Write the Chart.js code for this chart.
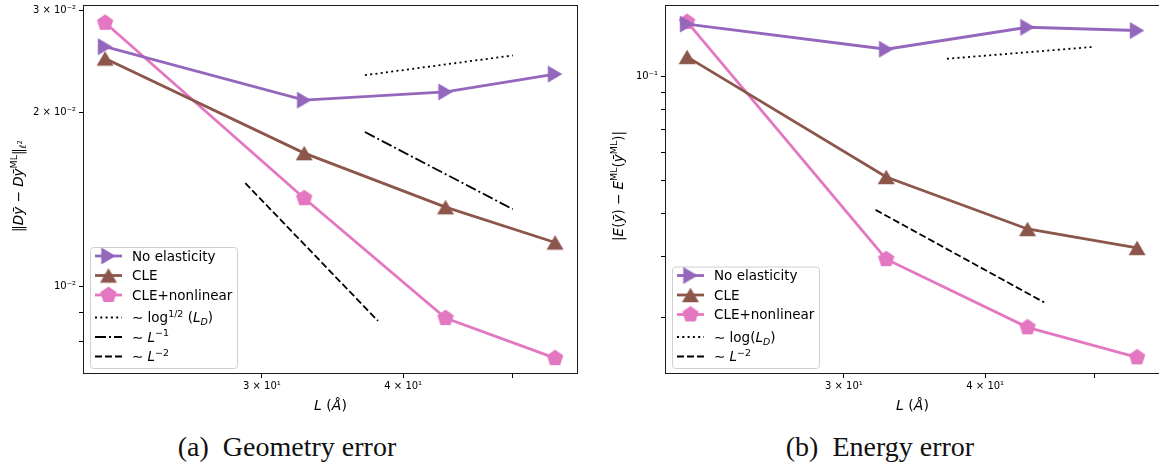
<!DOCTYPE html>
<html>
<head>
<meta charset="utf-8">
<script src="https://cdn.jsdelivr.net/npm/chart.js"></script>
<style>
  body { margin: 0; width: 1159px; height: 466px; overflow: hidden; background: #fff; position: relative; }
  .panel { position: absolute; top: 0; width: 590px; height: 420px; }
  .caption { position: absolute; top: 433px; font-family: 'Liberation Serif', serif; font-size: 28px;
             line-height: 28px; white-space: nowrap; transform: translateX(-50%); color: #111; }
</style>
</head>
<body>
<div class="panel" style="left:0"><canvas id="geoChart" width="590" height="420"></canvas></div>
<div class="panel" style="left:582px"><canvas id="energyChart" width="590" height="420"></canvas></div>
<div class="caption" style="left:287px">(a)&nbsp; Geometry error</div>
<div class="caption" style="left:880px">(b)&nbsp; Energy error</div>
<script>
// system size L (Å)
const L = [21.8, 32.7, 43.6, 54.5];

// geometry error ||Dy - Dy^ML||
const geoNoElastic = [2.60e-2, 2.10e-2, 2.17e-2, 2.33e-2];
const geoCLE = [2.48e-2, 1.70e-2, 1.37e-2, 1.19e-2];
const geoCLENonlin = [2.86e-2, 1.42e-2, 8.80e-3, 7.50e-3];

// energy error |E(y) - E^ML(y^ML)|
const enNoElastic = [0.142, 0.120, 0.139, 0.136];
const enCLE = [0.114, 0.0511, 0.0361, 0.0318];
const enCLENonlin = [0.144, 0.0295, 0.0187, 0.0153];

// rate guides
const geoLogL = [37.0, 50.0], geoLogErr = [2.32e-2, 2.51e-2];
const geoInvL = [37.0, 50.0], geoInvErr = [1.849e-2, 1.359e-2];
const geoInv2L = [29.0, 38.0], geoInv2Err = [1.508e-2, 8.70e-3];
const enLogL = [37.0, 50.0], enLogErr = [0.1126, 0.1220];
const enInv2L = [32.0, 45.1], enInv2Err = [0.0410, 0.0221];

// ticks
const xTicks = [30, 40, 50];
const xTickLabels = ['3 × 10¹', '4 × 10¹', ''];
const geoTicks = [8e-3, 9e-3, 1e-2, 2e-2, 3e-2];
const geoTickLabels = ['', '', '10⁻²', '2 × 10⁻²', '3 × 10⁻²'];
const enTicks = [2e-2, 3e-2, 4e-2, 5e-2, 6e-2, 7e-2, 8e-2, 9e-2, 1e-1];
const enTickLabels = ['', '', '', '', '', '', '', '', '10⁻¹'];

const PURPLE = '#9467bd', BROWN = '#8c564b', PINK = '#e377c2';

Chart.defaults.font.family = 'DejaVu Sans';

function markerCanvas(color, kind) {
  const c = document.createElement('canvas');
  c.width = 20; c.height = 20;
  const g = c.getContext('2d');
  g.fillStyle = color;
  g.beginPath();
  if (kind === 'right') {
    g.moveTo(17.25, 10); g.lineTo(2.75, 1.5); g.lineTo(2.75, 18.5);
  } else if (kind === 'up') {
    g.moveTo(10, 2.75); g.lineTo(1.5, 17.25); g.lineTo(18.5, 17.25);
  } else {
    for (let k = 0; k < 5; k++) {
      const a = -Math.PI / 2 + k * 2 * Math.PI / 5;
      g.lineTo(10 + 8.6 * Math.cos(a), 10 + 8.6 * Math.sin(a));
    }
  }
  g.closePath();
  g.fill();
  return c;
}

function pts(xs, ys) { return xs.map((x, i) => ({ x, y: ys[i] })); }

function series(label, xs, ys, color, kind) {
  return { label, rich: [[label]], data: pts(xs, ys), borderColor: color, backgroundColor: color,
           borderWidth: 2.8, pointStyle: markerCanvas(color, kind), pointRadius: 9 };
}

function guide(label, rich, xs, ys, dash) {
  return { label, rich, data: pts(xs, ys), borderColor: '#000', borderWidth: 1.8,
           borderDash: dash, pointRadius: 0 };
}

// run styles: [size factor, baseline shift, italic]
const RUN = { n: [1, 0, false], i: [1, 0, true], s: [0.7, -0.42, false], b: [0.7, 0.22, false],
              bi: [0.7, 0.22, true], bs: [0.5, -0.08, false] };

function drawRich(ctx, runs, x, y, size, align) {
  let w = 0;
  const parts = runs.map(([t, k]) => {
    const [s, dy, it] = RUN[k || 'n'];
    const font = (it ? 'italic ' : '') + (size * s) + 'px "DejaVu Sans"';
    ctx.font = font;
    const pw = ctx.measureText(t).width;
    w += pw;
    return { t, font, dy: dy * size, pw };
  });
  let cx = align === 'center' ? x - w / 2 : x;
  ctx.textAlign = 'left';
  ctx.textBaseline = 'alphabetic';
  for (const p of parts) {
    ctx.font = p.font;
    ctx.fillText(p.t, cx, y + p.dy);
    cx += p.pw;
  }
}

// spines, axis titles and the boxed legend
const mplFrame = {
  id: 'mplFrame',
  afterDraw(chart, args, o) {
    const { ctx, chartArea: a } = chart;
    ctx.save();
    ctx.strokeStyle = '#1a1a1a';
    ctx.lineWidth = 1;
    ctx.strokeRect(a.left + 0.5, a.top + 0.5, a.right - a.left - 1, a.bottom - a.top - 1);

    ctx.fillStyle = '#000';
    drawRich(ctx, o.xTitle, (a.left + a.right) / 2, 410, 14, 'center');
    ctx.save();
    ctx.translate(o.yTitleX, 186);
    ctx.rotate(-Math.PI / 2);
    drawRich(ctx, o.yTitle, 0, 5, 13.5, 'center');
    ctx.restore();

    const sets = chart.data.datasets;
    const n = sets.length;
    const h = 9 + (n - 1) * 19.5 + 3 + 11.5;
    const left = a.left + 7, bottom = a.bottom - 6, top = bottom - h, width = 147;
    ctx.beginPath();
    ctx.roundRect(left + 0.5, top + 0.5, width, h, 3);
    ctx.fillStyle = 'rgba(255,255,255,0.8)';
    ctx.fill();
    ctx.strokeStyle = '#d0d0d0';
    ctx.stroke();
    sets.forEach((ds, i) => {
      const y = top + 9 + i * 19.5 + (i >= 3 ? 3 : 0);
      ctx.beginPath();
      ctx.setLineDash(ds.borderDash || []);
      ctx.strokeStyle = ds.borderColor;
      ctx.lineWidth = ds.borderWidth;
      ctx.moveTo(left + 5, y);
      ctx.lineTo(left + 32, y);
      ctx.stroke();
      ctx.setLineDash([]);
      if (ds.pointRadius) {
        const m = ds.pointStyle;
        ctx.drawImage(m, left + 18.5 - m.width / 2, y - m.height / 2);
      }
      ctx.fillStyle = '#000';
      drawRich(ctx, ds.rich, left + 42, y + 4.8, 13.5, 'left');
    });
    ctx.restore();
  }
};

function logAxis(min, max, vals, labels, isX) {
  return {
    type: 'logarithmic', min, max,
    afterBuildTicks: s => { s.ticks = vals.map(v => ({ value: v })); },
    afterFit: s => {
      if (isX) { s.height = 46; s.paddingLeft = 0; s.paddingRight = 0; }
      else { s.width = 83; s.paddingTop = 0; s.paddingBottom = 0; }
    },
    ticks: { autoSkip: false, maxRotation: 0, padding: 3, color: '#000',
             font: { size: 10, lineHeight: 1 }, callback: (v, i) => labels[i] },
    grid: { drawOnChartArea: false, tickLength: 4, color: '#000', lineWidth: 1 },
    border: { display: false }
  };
}

function makeChart(id, datasets, yMin, yMax, yVals, yLabels, frame) {
  return new Chart(document.getElementById(id), {
    type: 'line',
    data: { datasets },
    options: {
      responsive: false, animation: false, devicePixelRatio: 1, events: [],
      layout: { autoPadding: false, padding: { top: 5, right: 12, bottom: 0, left: 0 } },
      plugins: { legend: { display: false }, tooltip: { enabled: false }, mplFrame: frame },
      scales: {
        x: logAxis(20.84, 57.1, xTicks, xTickLabels, true),
        y: logAxis(yMin, yMax, yVals, yLabels, false)
      }
    },
    plugins: [mplFrame]
  });
}

const yBar = ['y\u0304', 'i'];
const xTitle = [['L', 'i'], [' ('], ['Å', 'i'], [')']];

makeChart('geoChart', [
  series('No elasticity', L, geoNoElastic, PURPLE, 'right'),
  series('CLE', L, geoCLE, BROWN, 'up'),
  series('CLE+nonlinear', L, geoCLENonlin, PINK, 'pent'),
  guide('~ log^1/2(L_D)', [['∼ log'], ['1/2', 's'], [' ('], ['L', 'i'], ['D', 'bi'], [')']],
        geoLogL, geoLogErr, [2, 3.3]),
  guide('~ L^-1', [['∼ '], ['L', 'i'], ['−1', 's']], geoInvL, geoInvErr, [11, 3, 2, 3]),
  guide('~ L^-2', [['∼ '], ['L', 'i'], ['−2', 's']], geoInv2L, geoInv2Err, [7, 3])
], 7.04e-3, 3.07e-2, geoTicks, geoTickLabels, {
  xTitle, yTitleX: 18,
  yTitle: [['‖'], ['D', 'i'], yBar, [' − '], ['D', 'i'], yBar, ['ML', 's'], ['‖'], ['ℓ', 'bi'], ['2', 'bs']]
});

makeChart('energyChart', [
  series('No elasticity', L, enNoElastic, PURPLE, 'right'),
  series('CLE', L, enCLE, BROWN, 'up'),
  series('CLE+nonlinear', L, enCLENonlin, PINK, 'pent'),
  guide('~ log(L_D)', [['∼ log('], ['L', 'i'], ['D', 'bi'], [')']], enLogL, enLogErr, [2, 3.3]),
  guide('~ L^-2', [['∼ '], ['L', 'i'], ['−2', 's']], enInv2L, enInv2Err, [7, 3])
], 1.369e-2, 0.1613, enTicks, enTickLabels, {
  xTitle, yTitleX: 36,
  yTitle: [['|'], ['E', 'i'], ['('], yBar, [') − '], ['E', 'i'], ['ML', 's'], ['('], yBar, ['ML', 's'], [')|']]
});
</script>
</body>
</html>
